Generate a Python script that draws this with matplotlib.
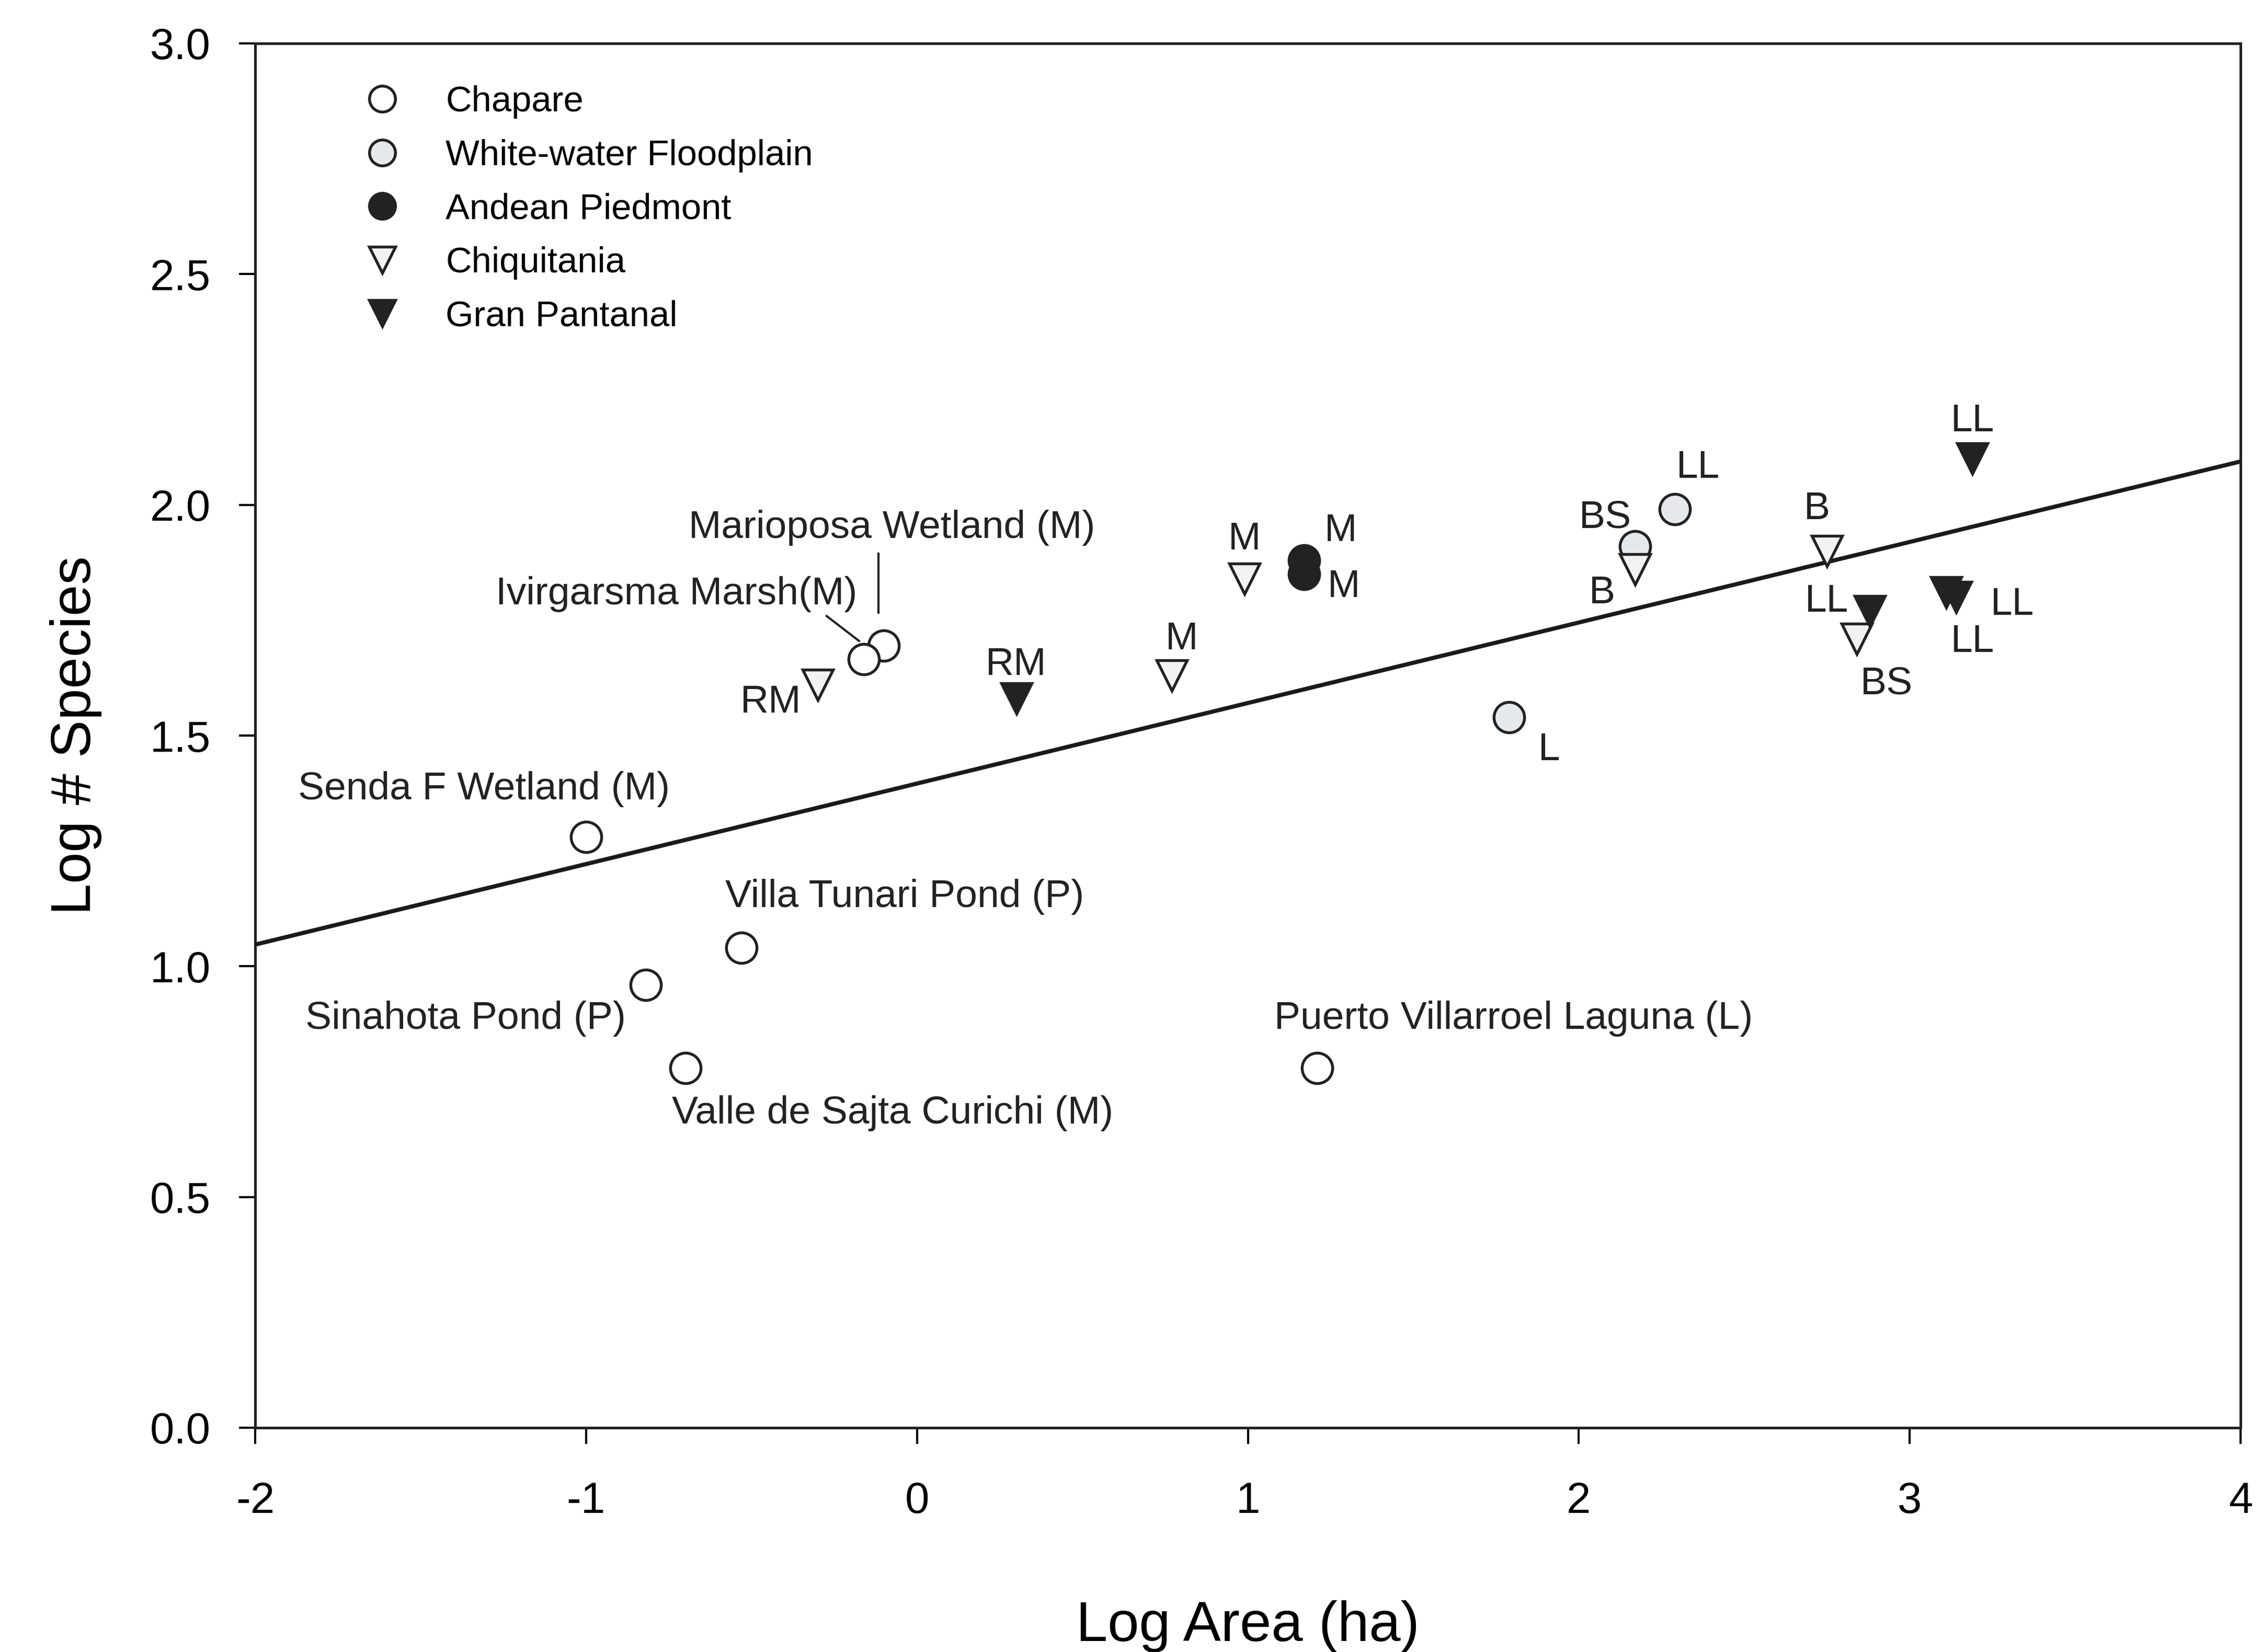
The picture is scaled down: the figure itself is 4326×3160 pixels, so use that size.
import matplotlib.pyplot as plt
import numpy as np

plt.rcParams['font.family'] = ['Liberation Sans', 'DejaVu Sans']
plt.rcParams['axes.unicode_minus'] = False

# ---- data (log area, log # species) ----
chapare_x = [-1.00, -0.82, -0.53, -0.70, 1.21, -0.10, -0.16]
chapare_y = [1.28, 0.96, 1.04, 0.78, 0.78, 1.695, 1.665]

whitewater_x = [1.79, 2.17, 2.29]
whitewater_y = [1.54, 1.91, 1.99]

andean_x = [1.17, 1.17]
andean_y = [1.88, 1.85]

chiq_x = [-0.30, 0.77, 0.99, 2.17, 2.75, 2.84]
chiq_y = [1.61, 1.63, 1.84, 1.86, 1.90, 1.71]

pant_x = [0.30, 3.19, 2.88, 3.11, 3.14]
pant_y = [1.58, 2.10, 1.77, 1.81, 1.80]

# regression line  y = a + b x
fit_a = 1.396
fit_b = 0.1745

# label text and where it sits (data coords)
labels = ["Senda F Wetland (M)", "Sinahota Pond (P)", "Villa Tunari Pond (P)",
          "Valle de Sajta Curichi (M)", "Puerto Villarroel Laguna (L)",
          "Marioposa Wetland (M)", "Ivirgarsma Marsh(M)",
          "RM", "RM", "M", "M", "M", "M", "BS", "LL", "B", "L", "B",
          "LL", "BS", "LL", "LL", "LL"]
label_x = [-1.87, -0.88, -0.58, -0.74, 1.08,
           -0.69, -0.18,
           -0.35, 0.30, 0.80, 0.99, 1.28, 1.29, 2.08, 2.36, 2.07, 1.91, 2.72,
           2.75, 2.93, 3.19, 3.31, 3.19]
label_y = [1.384, 0.887, 1.150, 0.681, 0.887,
           1.950, 1.806,
           1.572, 1.653, 1.709, 1.925, 1.944, 1.822, 1.972, 2.081, 1.809, 1.469, 1.991,
           1.791, 1.612, 2.181, 1.784, 1.703]
label_ha = ['left', 'right', 'left', 'left', 'left', 'left', 'right',
            'right', 'center', 'center', 'center', 'center', 'center', 'center',
            'center', 'center', 'center', 'center', 'center', 'center', 'center',
            'center', 'center']

fig = plt.figure(figsize=(4326 / 300, 3160 / 300), dpi=300)
ax = fig.add_axes([488 / 4326, 1 - 2731 / 3160, (4285 - 488) / 4326, (2731 - 83) / 3160])

xs = np.array([-2, 4])
ax.plot(xs, fit_a + fit_b * xs, color='#1a1a1a', lw=1.9, zorder=1)

ms = 14
ax.plot(chapare_x, chapare_y, 'o', ms=ms, mfc='white', mec='#222222', mew=1.3,
        ls='none', label='Chapare', zorder=3)
ax.plot(whitewater_x, whitewater_y, 'o', ms=ms, mfc='#e6e9ec', mec='#222222', mew=1.3,
        ls='none', label='White-water Floodplain', zorder=3)
ax.plot(andean_x, andean_y, 'o', ms=ms, mfc='#222222', mec='#222222', mew=1.3,
        ls='none', label='Andean Piedmont', zorder=3)
ax.plot(chiq_x, chiq_y, 'v', ms=ms, mfc='#f2f2f2', mec='#222222', mew=1.3,
        ls='none', label='Chiquitania', zorder=3)
ax.plot(pant_x, pant_y, 'v', ms=ms, mfc='#222222', mec='#222222', mew=1.3,
        ls='none', label='Gran Pantanal', zorder=3)

for t, lx, ly, ha in zip(labels, label_x, label_y, label_ha):
    ax.text(lx, ly, t, fontsize=18, ha=ha, va='center', color='#222222')

# leader lines for the two close Chapare sites
ax.plot([-0.116, -0.116], [1.894, 1.766], color='#222222', lw=1.0)
ax.plot([-0.273, -0.175], [1.759, 1.705], color='#222222', lw=1.0)

ax.set_xlim(-2, 4)
ax.set_ylim(0, 3)
ax.set_xticks([-2, -1, 0, 1, 2, 3, 4])
ax.set_yticks([0, 0.5, 1.0, 1.5, 2.0, 2.5, 3.0])
ax.set_yticklabels(['0.0', '0.5', '1.0', '1.5', '2.0', '2.5', '3.0'])
ax.tick_params(direction='out', length=7.5, width=1.0, labelsize=20, pad=17)
ax.tick_params(axis='y', pad=13)
for s in ax.spines.values():
    s.set_linewidth(1.2)
    s.set_color('#222222')

ax.set_xlabel('Log Area (ha)', fontsize=26, labelpad=36)
ax.set_ylabel('Log # Species', fontsize=26, labelpad=22)

leg = ax.legend(loc='upper left', bbox_to_anchor=(0.046, 0.980), frameon=False,
                fontsize=16.5, markerscale=0.85, labelspacing=0.56, handlelength=1.2,
                handletextpad=1.16, borderaxespad=0)

plt.savefig('out.png', dpi=300)
